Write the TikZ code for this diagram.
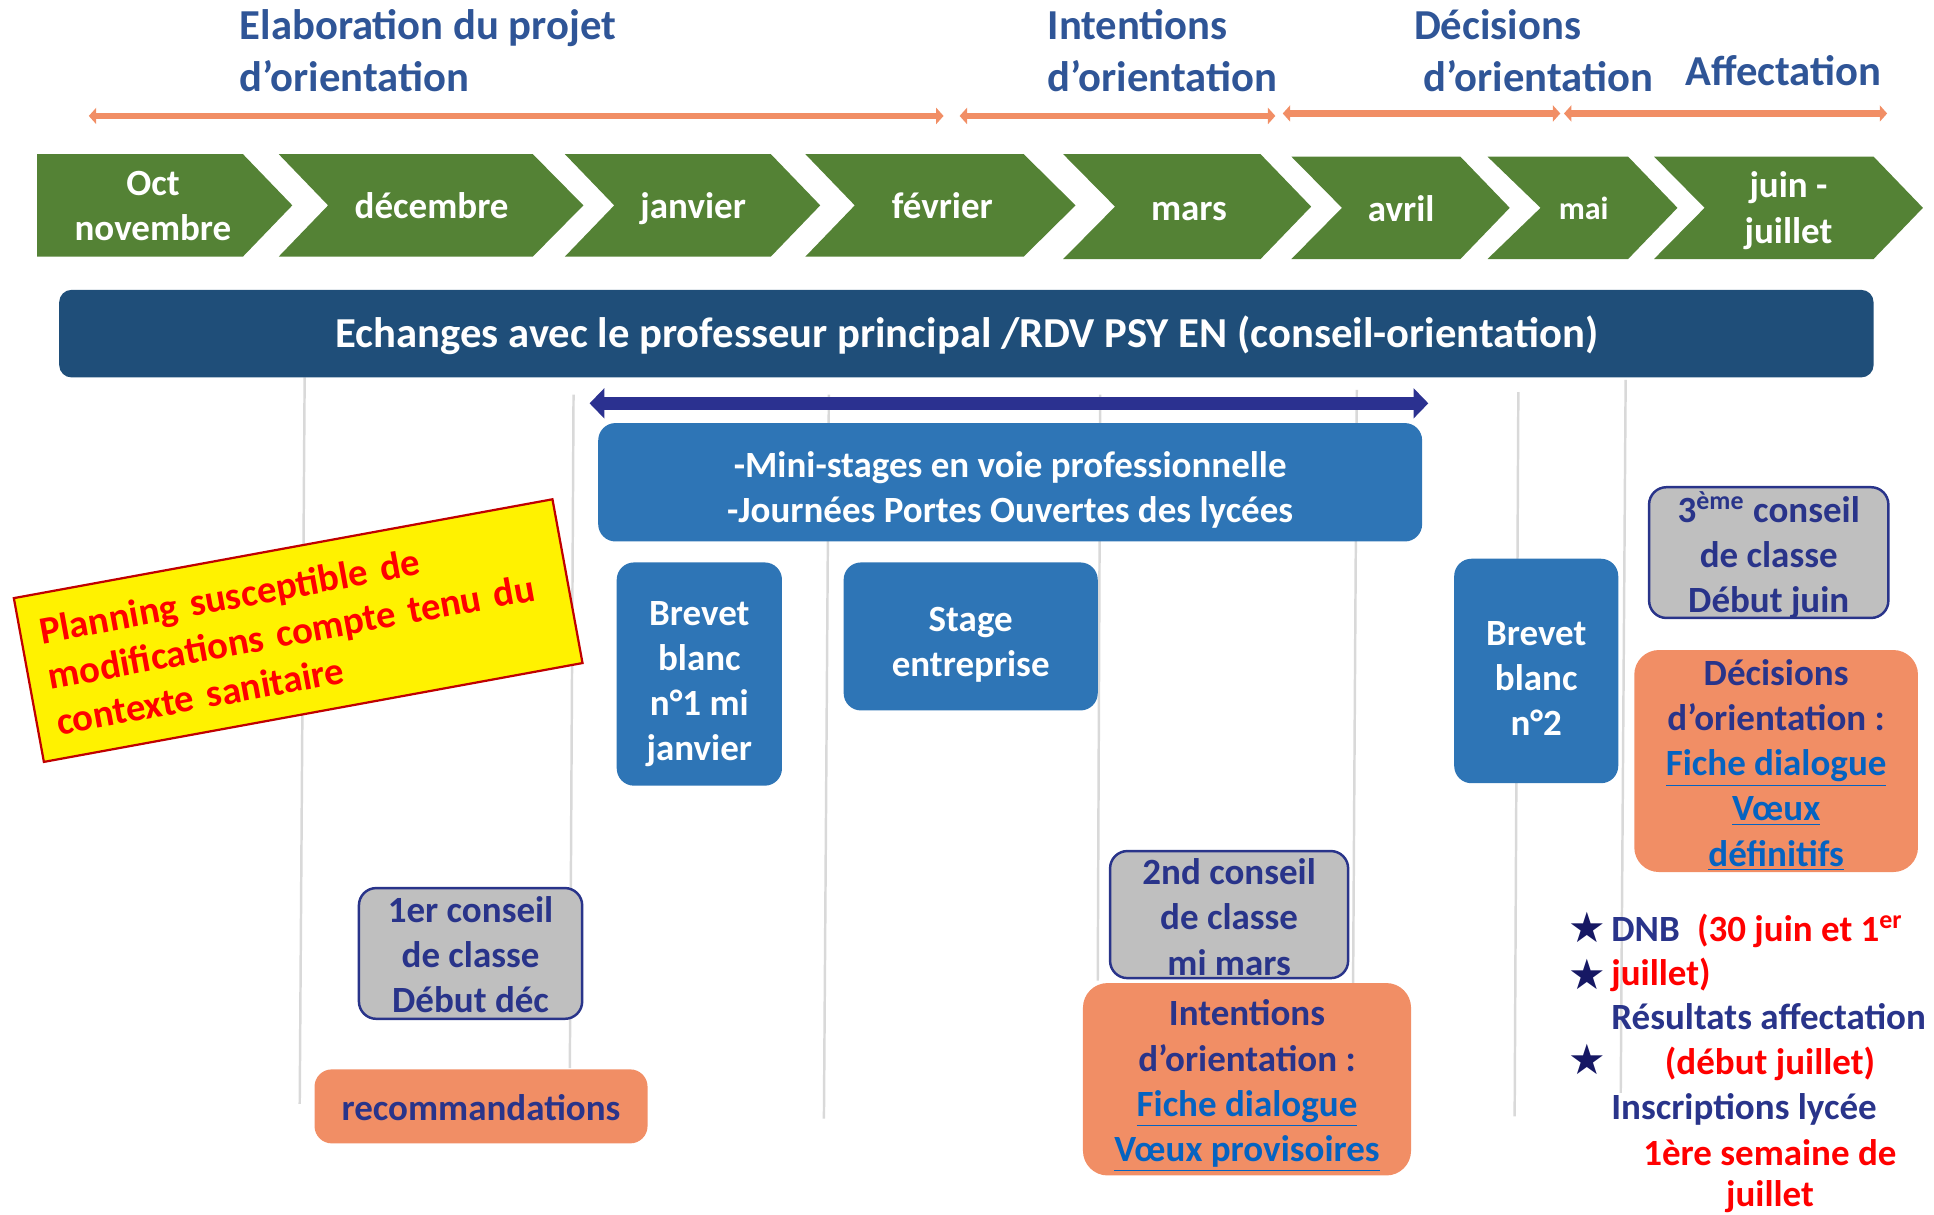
\documentclass[tikz,border=0pt]{standalone}
\usepackage{fontspec}
\setmainfont{Carlito}
\newfontfamily\symfont{DejaVu Sans}
\usetikzlibrary{arrows.meta}
\definecolor{headblue}{RGB}{47,85,151}
\definecolor{mgreen}{RGB}{84,130,53}
\definecolor{darkbanner}{RGB}{31,78,121}
\definecolor{midblue}{RGB}{46,117,182}
\definecolor{navytext}{RGB}{41,52,138}
\definecolor{arrownavy}{RGB}{43,49,144}
\definecolor{salmon}{RGB}{241,142,101}
\definecolor{boxgray}{RGB}{191,191,191}
\definecolor{linkblue}{RGB}{5,99,193}
\definecolor{gridgray}{RGB}{217,217,217}
\definecolor{warnred}{RGB}{255,0,0}
\definecolor{warnborder}{RGB}{192,0,0}
\definecolor{starnavy}{RGB}{22,24,100}
\newcommand\lnk[1]{\textcolor{linkblue}{\underline{#1}}}
\newcommand\chev[7]{\fill[mgreen] (#1,#5) -- (#3,#5) -- (#4,#7) -- (#3,#6) -- (#1,#6) -- (#2,#7) -- cycle;}
\tikzset{
  hd/.style={font=\fontsize{17.3}{21}\selectfont\bfseries, text=headblue, align=left, inner sep=0pt},
  month/.style={font=\fontsize{15}{18.5}\selectfont\bfseries, text=white, align=center, inner sep=0pt},
  bx/.style={rounded corners=7pt, inner sep=0pt},
  boxtxt/.style={align=center, inner sep=0pt, font=\fontsize{15}{18.3}\selectfont\bfseries},
  bluebox/.style={bx, fill=midblue},
  graybox/.style={bx, fill=boxgray, draw=navytext, line width=1pt},
  orangebox/.style={bx, fill=salmon, rounded corners=10pt},
  gridline/.style={draw=gridgray, line width=1pt},
  orangearrow/.style={draw=salmon, line width=2.7pt, {Triangle[width=6.5pt,length=3pt]}-{Triangle[width=6.5pt,length=3pt]}},
  navyarrow/.style={draw=arrownavy, line width=5.5pt, {Triangle[width=12pt,length=6pt]}-{Triangle[width=12pt,length=6pt]}},
  listtxt/.style={font=\fontsize{15}{18.3}\selectfont\bfseries, inner sep=0pt},
  starmark/.style={font=\symfont\fontsize{17}{17}\selectfont, text=starnavy, inner sep=0pt},
}
\begin{document}
\begin{tikzpicture}[x=0.5pt,y=-0.5pt]
\useasboundingbox (0,0) rectangle (1568,985);
% grid lines
\draw[gridline] (247,306) -- (243,895);
\draw[gridline] (465,320) -- (462,866);
\draw[gridline] (672,320) -- (668,907);
\draw[gridline] (892,320) -- (890,795);
\draw[gridline] (1100,316) -- (1097,800);
\draw[gridline] (1231,318) -- (1228,905);
\draw[gridline] (1318,308) -- (1314,886);
% headings
\node[hd, anchor=west] (h1) at (194,41) {Elaboration du projet\\d’orientation};
\node[hd, anchor=west] (h2) at (849,41) {Intentions\\d’orientation};
\node[hd, anchor=west] (h3) at (1146,41) {Décisions\\\hspace*{4pt}d’orientation};
\node[hd, anchor=west] (h4) at (1366,57) {Affectation};
% orange arrows
\coordinate (a1l) at (72,94); \coordinate (a1r) at (765,94);
\coordinate (a2l) at (778,94); \coordinate (a2r) at (1034,94);
\coordinate (a3l) at (1040,92); \coordinate (a3r) at (1265,92);
\coordinate (a4l) at (1268,92); \coordinate (a4r) at (1530,92);
\draw[orangearrow] (a1l) -- (a1r);
\draw[orangearrow] (a2l) -- (a2r);
\draw[orangearrow] (a3l) -- (a3r);
\draw[orangearrow] (a4l) -- (a4r);
% chevrons
\chev{30}{30}{197}{237}{125}{208}{166.5}
\chev{226}{266}{432}{473}{125}{208}{166.5}
\chev{458}{498}{625}{665}{125}{208}{166.5}
\chev{653}{693}{830}{872}{125}{208}{166.5}
\chev{862}{904}{1022}{1063}{125}{210}{167.5}
\chev{1047}{1088}{1184}{1224}{127}{210}{168.5}
\chev{1206}{1249}{1320}{1360}{127}{210}{168.5}
\chev{1341}{1382}{1519}{1559}{127}{210}{168.5}
\node[month] (m1) at (124,167) {Oct\\novembre};
\node[month, anchor=base] (m2) at (350,177.5) {décembre};
\node[month, anchor=base] (m3) at (562,177.5) {janvier};
\node[month, anchor=base] (m4) at (764,177.5) {février};
\node[month, anchor=base] (m5) at (964,178.5) {mars};
\node[month, anchor=base] (m6) at (1136,179.5) {avril};
\node[month, anchor=base, font=\fontsize{13}{16}\selectfont\bfseries] (m7) at (1284,178) {mai};
\node[month] (m8) at (1450,171) {juin -\\juillet};
% banner
\node[bx, fill=darkbanner, rounded corners=5pt, minimum width=735.5pt, minimum height=35.5pt] (banner) at (783.5,270.5) {};
\node[boxtxt, text=white, font=\fontsize{17.3}{20}\selectfont\bfseries] (bannert) at (784,272) {Echanges avec le professeur principal /RDV PSY EN (conseil-orientation)};
% navy arrow
\coordinate (nl) at (478,327); \coordinate (nr) at (1158,327);
\draw[navyarrow] (nl) -- (nr);
% blue boxes
\node[bluebox, minimum width=334pt, minimum height=48pt] (mini) at (819,391) {};
\node[boxtxt, text=white] (minit) at (819,397.5) {-Mini-stages en voie professionnelle\\-Journées Portes Ouvertes des lycées};
\node[bluebox, minimum width=67pt, minimum height=90.5pt] (bb1) at (567,546.5) {};
\node[boxtxt, text=white] (bb1t) at (567,554.5) {Brevet\\blanc\\n°1 mi\\janvier};
\node[bluebox, minimum width=103pt, minimum height=60pt] (stage) at (787,516) {};
\node[boxtxt, text=white] (staget) at (787,523) {Stage\\entreprise};
\node[bluebox, minimum width=66.5pt, minimum height=91pt] (bb2) at (1245.5,544) {};
\node[boxtxt, text=white] (bb2t) at (1245.5,550) {Brevet\\blanc\\n°2};
% gray boxes
\node[graybox, minimum width=97pt, minimum height=53pt] (c3) at (1434,448) {};
\node[boxtxt, text=navytext] (c3t) at (1434,450) {3\textsuperscript{ème} conseil\\de classe\\Début juin};
\node[graybox, minimum width=96.5pt, minimum height=51.5pt] (c2) at (996.5,741.5) {};
\node[boxtxt, text=navytext] (c2t) at (996.5,743.5) {2nd conseil\\de classe\\mi mars};
\node[graybox, minimum width=90.5pt, minimum height=53pt] (c1) at (381.5,773) {};
\node[boxtxt, text=navytext] (c1t) at (381.5,774) {1er conseil\\de classe\\Début déc};
% orange boxes
\node[orangebox, minimum width=115pt, minimum height=90pt] (dec) at (1440,617) {};
\node[boxtxt, text=navytext] (dect) at (1440,620.5) {Décisions\\d’orientation :\\\lnk{Fiche dialogue}\\\lnk{Vœux}\\\lnk{définitifs}};
\node[orangebox, minimum width=133pt, minimum height=78pt] (int) at (1011,875) {};
\node[boxtxt, text=navytext] (intt) at (1011,880.5) {Intentions\\d’orientation :\\\lnk{Fiche dialogue}\\\lnk{Vœux provisoires}};
\node[orangebox, rounded corners=7pt, minimum width=135pt, minimum height=30pt] (reco) at (390,897) {};
\node[boxtxt, text=navytext] (recot) at (390,898) {recommandations};
% warning box
\node[draw=warnborder, line width=0.9pt, fill=yellow, rotate=10.4, minimum height=67.5pt, text width=206pt, inner xsep=8pt, align=left, text=warnred, font=\fontsize{15.7}{18.8}\selectfont\bfseries] (warn) at (241.75,511.25) {Planning susceptible de\\modifications compte tenu du\\contexte sanitaire};
% bottom-right list
\node[starmark] (s1) at (1287,752) {★};
\node[starmark] (s2) at (1287,790) {★};
\node[starmark] (s3) at (1287,859) {★};
\node[listtxt, anchor=base west] (l1) at (1306,763) {\textcolor{navytext}{DNB}\hspace{7pt}\textcolor{warnred}{(30 juin et 1\textsuperscript{er}}};
\node[listtxt, anchor=base west, text=warnred] (l2) at (1306,799) {juillet)};
\node[listtxt, anchor=base west, text=navytext] (l3) at (1306,835) {Résultats affectation};
\node[listtxt, anchor=base, text=warnred] (l4) at (1435,871) {(début juillet)};
\node[listtxt, anchor=base west, text=navytext] (l5) at (1306,908) {Inscriptions lycée};
\node[listtxt, anchor=base, text=warnred] (l6) at (1435,945) {1ère semaine de};
\node[listtxt, anchor=base, text=warnred] (l7) at (1435,978) {juillet};
\end{tikzpicture}
\end{document}
